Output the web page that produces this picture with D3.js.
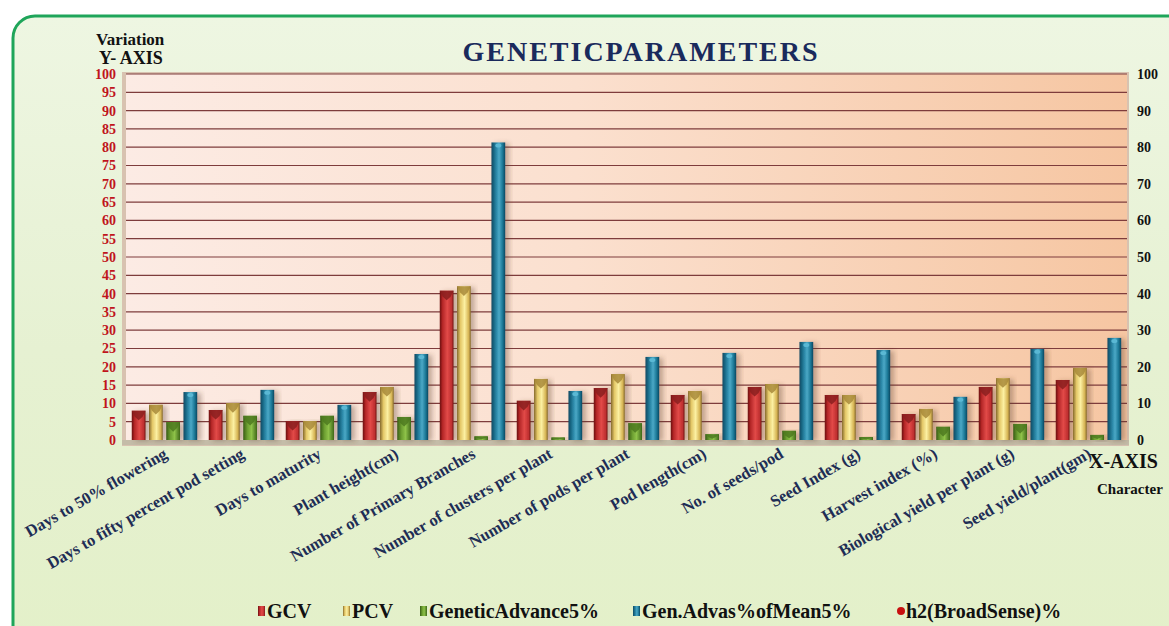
<!DOCTYPE html>
<html>
<head>
<meta charset="utf-8">
<script src="https://cdn.jsdelivr.net/npm/d3@7"></script>
<style>
  body { margin: 0; background: #fff; }
  svg text { font-family: "Liberation Serif", "DejaVu Serif", serif; font-weight: bold; }
</style>
</head>
<body>
<script>
// data
var characters = ["Days to 50% flowering", "Days to fifty percent pod setting", "Days to maturity",
  "Plant height(cm)", "Number of Primary Branches", "Number of clusters per plant",
  "Number of pods per plant", "Pod length(cm)", "No. of seeds/pod", "Seed Index (g)",
  "Harvest index (%)", "Biological yield per plant (g)", "Seed yield/plant(gm)"];
var gcv = [8.0, 8.2, 5.2, 13.1, 40.8, 10.7, 14.2, 12.3, 14.5, 12.3, 7.1, 14.5, 16.4];
var pcv = [9.6, 10.1, 5.2, 14.5, 42.0, 16.7, 18.0, 13.4, 15.3, 12.3, 8.5, 16.9, 19.7];
var geneticAdvance = [4.9, 6.6, 6.6, 6.3, 1.0, 0.7, 4.6, 1.6, 2.5, 0.8, 3.6, 4.4, 1.4];
var genAdvMean = [13.1, 13.7, 9.6, 23.5, 81.3, 13.4, 22.7, 23.8, 26.8, 24.6, 11.8, 24.9, 27.9];
var seriesNames = ["GCV", "PCV", "GeneticAdvance5%", "Gen.Advas%ofMean5%"];
var legendNames = ["GCV", "PCV", "GeneticAdvance5%", "Gen.Advas%ofMean5%", "h2(BroadSense)%"];
var leftTicks = d3.range(0, 101, 5);
var rightTicks = d3.range(0, 101, 10);

var W = 1169, H = 626;
var plotL = 126, plotR = 1127, plotT = 74, plotB = 440;
var serif = "'Liberation Serif', 'DejaVu Serif', serif";

var svg = d3.select("body").append("svg")
    .attr("width", W)
    .attr("height", H)

var defs = svg.append("defs")

function grad(id, stops, vertical) {
    var g = defs.append("linearGradient").attr("id", id)
        .attr("x1", 0).attr("y1", 0)
        .attr("x2", vertical ? 0 : 1).attr("y2", vertical ? 1 : 0)
    stops.forEach(function(s) {
        g.append("stop").attr("offset", s[0]).attr("stop-color", s[1])
    })
}
grad("bgGreen", [[0, "#eef6e2"], [0.5, "#e6f1d2"], [1, "#e3f0c8"]], true)
grad("plotBg", [[0, "#fcebe4"], [0.45, "#fbe0cf"], [1, "#f6c6a2"]], false)
grad("gGCV", [[0, "#6a0f10"], [0.2, "#b42828"], [0.55, "#e24a48"], [0.85, "#c03030"], [1, "#761818"]])
grad("gPCV", [[0, "#866a2c"], [0.25, "#e4c868"], [0.55, "#fcf0a2"], [0.85, "#d6b454"], [1, "#866a2c"]])
grad("gGA", [[0, "#365c16"], [0.3, "#6c9e30"], [0.6, "#8ec24a"], [1, "#3e6818"]])
grad("gGAM", [[0, "#0c4a62"], [0.35, "#2a86a6"], [0.55, "#4aa8c6"], [0.8, "#1f7a98"], [1, "#0c4660"]])
var fills = ["url(#gGCV)", "url(#gPCV)", "url(#gGA)", "url(#gGAM)"];
var caps = ["#8a1e1e", "#a8893a", "#4e7a20", "#5ab8d4"];

var shadow = defs.append("filter").attr("id", "shadow")
    .attr("x", "-30%").attr("y", "-10%").attr("width", "180%").attr("height", "130%")
shadow.append("feDropShadow").attr("dx", 4).attr("dy", 1).attr("stdDeviation", 2.5)
    .attr("flood-color", "#5a3a2a").attr("flood-opacity", 0.35)

// outer frame
svg.append("rect").attr("width", W).attr("height", H).attr("fill", "#ffffff")
svg.append("rect")
    .attr("x", 13).attr("y", 16)
    .attr("width", W + 40).attr("height", H + 40)
    .attr("rx", 22)
    .attr("fill", "url(#bgGreen)")
    .attr("stroke", "#1fa55a")
    .attr("stroke-width", 3)

// plot area
svg.append("rect")
    .attr("x", plotL - 4).attr("y", plotT - 2)
    .attr("width", plotR - plotL + 6).attr("height", plotB - plotT + 8)
    .attr("fill", "#d8c2b0")
svg.append("rect")
    .attr("x", plotL).attr("y", plotT)
    .attr("width", plotR - plotL).attr("height", plotB - plotT)
    .attr("fill", "url(#plotBg)")
svg.append("rect")
    .attr("x", plotL - 4).attr("y", plotB)
    .attr("width", plotR - plotL + 6).attr("height", 5)
    .attr("fill", "#c4bca8")

var x0 = d3.scaleBand()
    .domain(characters)
    .range([plotL, plotR])
    .paddingInner(0.15)
    .paddingOuter(0.075)
var x1 = d3.scaleBand()
    .domain(seriesNames)
    .range([0, x0.bandwidth()])
    .paddingInner(0.2)
var y = d3.scaleLinear().domain([0, 100]).range([plotB, plotT])

// gridlines
svg.append("g").selectAll("line")
    .data(leftTicks.filter(function(d) { return d > 0; }))
    .enter().append("line")
    .attr("x1", plotL).attr("x2", plotR)
    .attr("y1", function(d) { return y(d); })
    .attr("y2", function(d) { return y(d); })
    .attr("stroke", "#7e3c3c")
    .attr("stroke-width", 1.2)

// left axis
var leftAxis = svg.append("g")
    .attr("transform", "translate(" + (plotL - 10) + ",0)")
    .call(d3.axisLeft(y).tickValues(leftTicks).tickSize(0).tickPadding(0))
    .attr("font-family", serif)
leftAxis.select(".domain").remove()
leftAxis.selectAll("text")
    .attr("fill", "#c0141c")
    .attr("font-size", 14)

// right axis
var rightAxis = svg.append("g")
    .attr("transform", "translate(" + (plotR + 10) + ",0)")
    .call(d3.axisRight(y).tickValues(rightTicks).tickSize(0).tickPadding(0))
    .attr("font-family", serif)
rightAxis.select(".domain").remove()
rightAxis.selectAll("text")
    .attr("fill", "#111")
    .attr("font-size", 14)

// bars
var allSeries = [gcv, pcv, geneticAdvance, genAdvMean];
var rows = [];
characters.forEach(function(c, i) {
    seriesNames.forEach(function(s, j) {
        rows.push({ c: c, s: s, j: j, v: allSeries[j][i] })
    })
})
var bars = svg.append("g").selectAll("g")
    .data(rows)
    .enter().append("g")
    .attr("transform", function(d) { return "translate(" + (x0(d.c) + x1(d.s)) + ",0)"; })
var bw = x1.bandwidth();
bars.append("rect")
    .attr("x", 0)
    .attr("y", function(d) { return y(d.v); })
    .attr("width", bw)
    .attr("height", function(d) { return plotB - y(d.v); })
    .attr("fill", function(d) { return fills[d.j]; })
    .attr("filter", "url(#shadow)")
// bevelled tops
bars.filter(function(d) { return d.j < 3; }).append("path")
    .attr("d", function(d) {
        var t = y(d.v), b = Math.min(6, (plotB - t) / 2);
        return "M0," + t + "L" + bw + "," + t + "L" + (bw - 3) + "," + (t + b) +
            "L" + (bw / 2) + "," + (t + b * 1.6) + "L3," + (t + b) + "Z";
    })
    .attr("fill", function(d) { return caps[d.j]; })
    .attr("opacity", 0.85)
bars.filter(function(d) { return d.j === 3; }).append("ellipse")
    .attr("cx", bw / 2)
    .attr("cy", function(d) { return y(d.v) + 3; })
    .attr("rx", 3).attr("ry", 2)
    .attr("fill", caps[3])

// x labels
svg.append("g").attr("font-family", serif).selectAll("text")
    .data(characters)
    .enter().append("text")
    .attr("transform", function(d) {
        return "translate(" + (x0(d) + x0.bandwidth() / 2 + 4) + "," + (plotB + 17) + ") rotate(-30)";
    })
    .attr("text-anchor", "end")
    .attr("fill", "#1e2d55")
    .attr("font-size", 16.5)
    .text(function(d) { return d; })

// titles
var titles = svg.append("g").attr("font-family", serif)
titles.append("text")
    .attr("x", 641).attr("y", 61)
    .attr("text-anchor", "middle")
    .attr("fill", "#1a2a5c")
    .attr("font-size", 28)
    .attr("letter-spacing", 2)
    .text("GENETICPARAMETERS")
titles.append("text").attr("x", 96).attr("y", 45).attr("font-size", 17).attr("fill", "#111").text("Variation")
titles.append("text").attr("x", 99).attr("y", 64).attr("font-size", 18).attr("fill", "#111").text("Y- AXIS")
titles.append("text").attr("x", 1089).attr("y", 468).attr("font-size", 20).attr("fill", "#111").text("X-AXIS")
titles.append("text").attr("x", 1097).attr("y", 494).attr("font-size", 15).attr("fill", "#111").text("Character")

// legend
var legendX = [258, 343, 420, 633, 897];
var legend = svg.append("g").attr("font-family", serif).selectAll("g")
    .data(legendNames)
    .enter().append("g")
    .attr("transform", function(d, i) { return "translate(" + legendX[i] + ",618)"; })
legend.each(function(d, i) {
    var g = d3.select(this)
    if (i < 4) {
        g.append("rect").attr("x", 0).attr("y", -12).attr("width", 7).attr("height", 10)
            .attr("fill", fills[i])
    } else {
        g.append("circle").attr("cx", 4).attr("cy", -7).attr("r", 4).attr("fill", "#c81010")
    }
    g.append("text").attr("x", 9).attr("y", 0)
        .attr("font-size", 20).attr("fill", "#111")
        .text(d)
})
</script>
</body>
</html>
